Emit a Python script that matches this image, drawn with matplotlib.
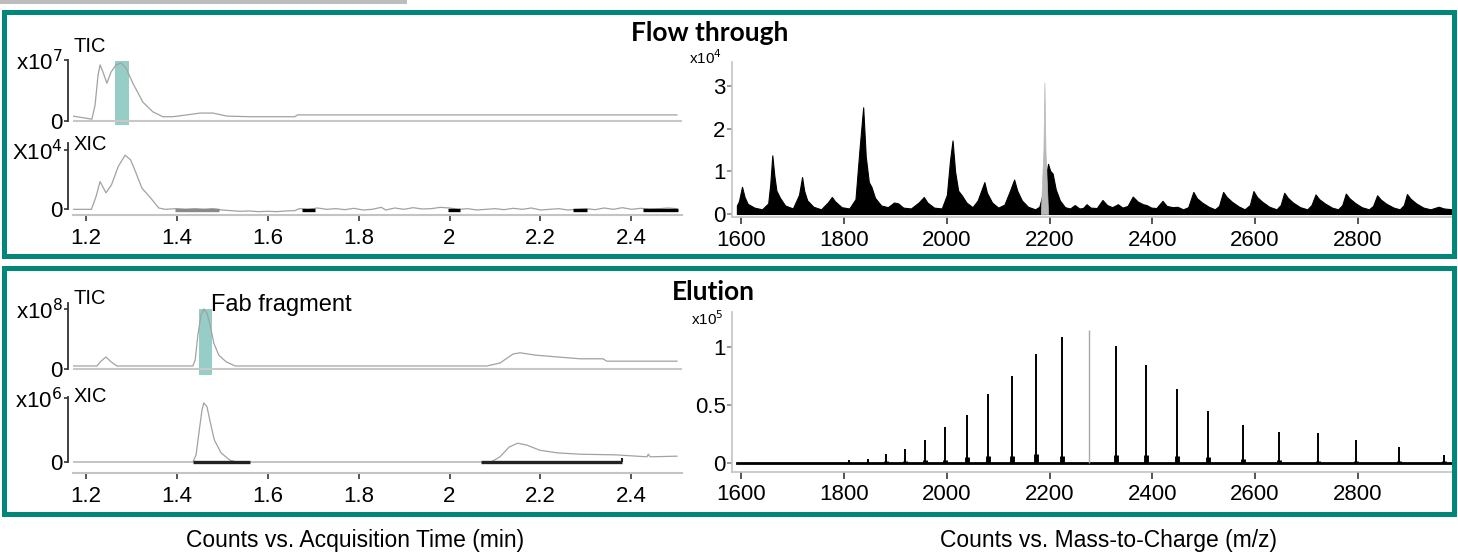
import matplotlib
matplotlib.use('Agg')
import matplotlib.pyplot as plt
from matplotlib.patches import Rectangle
from matplotlib.lines import Line2D

plt.rcParams['font.family'] = ['Liberation Sans', 'DejaVu Sans']

# ---------------- chromatogram data (time in min, relative counts) ----------------
ft_tic_t = [1.1725, 1.214, 1.221, 1.2275, 1.232, 1.2385, 1.247, 1.256, 1.267, 1.278, 1.289,
            1.304, 1.326, 1.348, 1.370, 1.392, 1.423, 1.452, 1.480, 1.511, 1.5615, 1.660,
            1.666, 2.500]
ft_tic_v = [0.08, 0.03, 0.26, 0.75, 0.92, 0.80, 0.62, 0.80, 0.92, 0.95, 0.87,
            0.62, 0.31, 0.15, 0.07, 0.07, 0.10, 0.13, 0.13, 0.08, 0.07, 0.07,
            0.10, 0.10]

ft_xic_t = [1.174, 1.213, 1.223, 1.232, 1.245, 1.257, 1.272, 1.287, 1.299, 1.311, 1.324,
            1.341, 1.361, 1.375, 1.40, 1.42, 1.44, 1.46, 1.48, 1.50, 1.52, 1.54, 1.56,
            1.58, 1.60, 1.62, 1.64, 1.66, 1.67, 1.69, 1.71, 1.73, 1.75, 1.77, 1.79, 1.81,
            1.83, 1.85, 1.86, 1.88, 1.90, 1.92, 1.94, 1.96, 1.98, 2.00, 2.02, 2.04, 2.06,
            2.08, 2.10, 2.12, 2.14, 2.16, 2.18, 2.20, 2.22, 2.24, 2.26, 2.28, 2.30, 2.32,
            2.34, 2.36, 2.38, 2.40, 2.42, 2.44, 2.46, 2.48, 2.50]
ft_xic_v = [0.0, 0.0, 0.19, 0.42, 0.25, 0.37, 0.65, 0.82, 0.75, 0.55, 0.32,
            0.19, 0.02, 0.0, 0.01, 0.0, 0.01, 0.0, 0.01, -0.01, -0.02, -0.03, -0.025,
            -0.035, -0.03, -0.035, -0.025, -0.02, 0.01, 0.0, 0.02, 0.0, 0.01, -0.005, 0.015, -0.01,
            0.0, 0.03, -0.01, 0.02, 0.0, 0.025, 0.005, 0.01, 0.03, 0.02, 0.0, 0.01, -0.01,
            0.0, 0.01, -0.005, 0.015, 0.0, 0.02, -0.01, 0.0, 0.01, -0.01, 0.0, 0.01, -0.005,
            0.02, 0.0, 0.025, 0.0, 0.015, 0.005, 0.01, 0.02, 0.01]
ft_xic_bars = [(1.397, 1.493), (1.675, 1.704), (1.997, 2.024), (2.271, 2.302), (2.425, 2.502)]
ft_highlight = (1.265, 1.296)

el_tic_t = [1.1725, 1.225, 1.234, 1.245, 1.256, 1.269, 1.436, 1.441, 1.447, 1.454, 1.460,
            1.467, 1.474, 1.482, 1.493, 1.509, 1.529, 2.082, 2.111, 2.140, 2.155, 2.190,
            2.238, 2.287, 2.337, 2.346, 2.500]
el_tic_v = [0.05, 0.05, 0.13, 0.20, 0.12, 0.05, 0.05, 0.15, 0.57, 0.90, 1.0,
            0.93, 0.73, 0.43, 0.23, 0.12, 0.05, 0.05, 0.10, 0.25, 0.27, 0.23,
            0.20, 0.17, 0.17, 0.13, 0.13]

el_xic_t = [1.1725, 1.436, 1.443, 1.451, 1.456, 1.460, 1.467, 1.473, 1.483, 1.498, 1.517,
            1.532, 2.091, 2.111, 2.131, 2.150, 2.170, 2.199, 2.238, 2.287, 2.366, 2.434,
            2.437, 2.441, 2.500]
el_xic_v = [0.0, 0.0, 0.11, 0.54, 0.80, 0.91, 0.85, 0.65, 0.34, 0.14, 0.03,
            0.0, 0.0, 0.08, 0.23, 0.29, 0.26, 0.18, 0.14, 0.12, 0.11, 0.08,
            0.12, 0.08, 0.09]
el_xic_bars = [(1.436, 1.562), (2.069, 2.379)]
el_highlight = (1.4495, 1.4787)

time_ticks = [1.2, 1.4, 1.6, 1.8, 2.0, 2.2, 2.4]
time_labels = ['1.2', '1.4', '1.6', '1.8', '2', '2.2', '2.4']

# ---------------- mass spectra (m/z, counts) ----------------
ft_ms_mz = [1591, 1595, 1601, 1606, 1612, 1625, 1640, 1652, 1656, 1660, 1664, 1668, 1675, 1685,
            1700, 1712, 1718, 1722, 1728, 1740, 1755, 1768, 1776, 1782, 1795, 1810, 1822,
            1830, 1837, 1842, 1848, 1853, 1860, 1872, 1885, 1897, 1905, 1915, 1930, 1945,
            1955, 1962, 1975, 1990, 2000, 2006, 2011, 2016, 2022, 2029, 2038, 2050, 2060,
            2073, 2078, 2088, 2100, 2112, 2122, 2131, 2137, 2146, 2158, 2172, 2180, 2190,
            2197, 2201, 2206, 2212, 2220, 2230, 2240, 2249, 2258, 2265, 2272, 2280, 2292,
            2303, 2312, 2322, 2333, 2342, 2352, 2362, 2372, 2382, 2389, 2398, 2408, 2420,
            2428, 2440, 2449, 2460, 2470, 2480, 2487, 2497, 2510, 2522, 2530, 2538, 2545,
            2555, 2568, 2580, 2590, 2597, 2604, 2614, 2628, 2642, 2650, 2657, 2664, 2674,
            2688, 2702, 2710, 2718, 2725, 2736, 2750, 2762, 2770, 2777, 2784, 2795, 2808,
            2822, 2830, 2838, 2845, 2856, 2870, 2882, 2890, 2896, 2903, 2914, 2928, 2942,
            2952, 2958, 2968, 2985, 2995]
ft_ms_int = [0.20, 0.30, 0.64, 0.40, 0.24, 0.15, 0.11, 0.25, 0.70, 1.38, 0.90, 0.55, 0.38, 0.20,
             0.13, 0.45, 0.87, 0.55, 0.32, 0.17, 0.11, 0.27, 0.40, 0.30, 0.16, 0.13, 0.35,
             1.55, 2.51, 1.35, 0.75, 0.64, 0.38, 0.20, 0.16, 0.27, 0.25, 0.15, 0.13, 0.27,
             0.40, 0.27, 0.15, 0.13, 0.45, 1.25, 1.73, 1.00, 0.55, 0.44, 0.27, 0.16, 0.32,
             0.75, 0.50, 0.27, 0.15, 0.22, 0.52, 0.81, 0.55, 0.32, 0.17, 0.11, 0.17, 0.62,
             1.18, 1.02, 0.95, 0.58, 0.32, 0.16, 0.13, 0.21, 0.13, 0.14, 0.23, 0.15, 0.14,
             0.33, 0.21, 0.16, 0.23, 0.15, 0.19, 0.41, 0.29, 0.23, 0.21, 0.15, 0.14, 0.31,
             0.19, 0.16, 0.17, 0.11, 0.16, 0.52, 0.37, 0.27, 0.17, 0.11, 0.19, 0.52, 0.40,
             0.29, 0.18, 0.11, 0.21, 0.54, 0.40, 0.29, 0.17, 0.11, 0.21, 0.50, 0.38, 0.27,
             0.16, 0.11, 0.21, 0.46, 0.35, 0.25, 0.15, 0.11, 0.21, 0.48, 0.37, 0.26, 0.16,
             0.11, 0.19, 0.44, 0.34, 0.24, 0.15, 0.11, 0.21, 0.47, 0.36, 0.25, 0.15, 0.11,
             0.15, 0.17, 0.13, 0.11, 0.10]
ft_spike_mz = [2183, 2188, 2190, 2192, 2197]
ft_spike_int = [0.05, 1.5, 3.09, 1.5, 0.05]

el_peak_mz = [1810, 1846, 1882, 1918, 1957, 1996, 2039, 2081, 2127, 2174, 2224, 2330,
              2387, 2448, 2509, 2577, 2647, 2722, 2797, 2881, 2969]
el_peak_int = [0.03, 0.04, 0.08, 0.12, 0.20, 0.31, 0.41, 0.59, 0.75, 0.94, 1.08, 1.01,
               0.84, 0.64, 0.45, 0.33, 0.27, 0.26, 0.20, 0.14, 0.07]
el_hump_int = [0.01, 0.01, 0.02, 0.02, 0.03, 0.03, 0.05, 0.06, 0.06, 0.08, 0.06, 0.07,
               0.07, 0.06, 0.05, 0.04, 0.03, 0.02, 0.02, 0.02, 0.02]
el_gray_mz = [2276]
el_gray_int = [1.14]
el_base_mz = [1591, 2995]
el_base_int = [0.006, 0.006]

mz_ticks = [1600, 1800, 2000, 2200, 2400, 2600, 2800]

# ---------------- layout helpers ----------------
W, H = 1458, 553
fig = plt.figure(figsize=(W / 100, H / 100), dpi=100)
TEAL = '#00877a'
HL = '#96cdc6'
TRACE = '#a2a2a2'
FS = 16


def px_axes(x0, y0, x1, y1):
    ax = fig.add_axes([x0 / W, 1 - y1 / H, (x1 - x0) / W, (y1 - y0) / H])
    ax.patch.set_visible(False)
    return ax


def ftext(x, y, s, **kw):
    fig.text(x / W, 1 - y / H, s, **kw)


def px2pt(p):
    return p * 72 / 100


def chrom_axes(y0, y1, ylim, top_tick, top_label, show_x):
    ax = px_axes(73, y0, 682, y1)
    ax.set_xlim(1.1725, 2.511)
    ax.set_ylim(*ylim)
    for s in ['top', 'right']:
        ax.spines[s].set_visible(False)
    ax.spines['left'].set_position(('outward', px2pt(5)))
    ax.spines['left'].set_bounds(0, top_tick)
    ax.spines['left'].set_color('#333333')
    ax.spines['left'].set_linewidth(1.3)
    ax.set_yticks([0, top_tick])
    ax.set_yticklabels(['0', top_label])
    ax.tick_params(axis='y', direction='out', length=3, width=1.2, color='#333333',
                   labelsize=FS, pad=1)
    if show_x:
        ax.spines['bottom'].set_color('#c4c4c4')
        ax.spines['bottom'].set_linewidth(1.5)
        ax.set_xticks(time_ticks)
        ax.set_xticklabels(time_labels)
        ax.tick_params(axis='x', direction='out', length=px2pt(6), width=1.4,
                       color='#555555', labelsize=FS, pad=5)
    else:
        ax.spines['bottom'].set_visible(False)
        ax.set_xticks([])
    return ax


def spec_axes(y0, y1, ylim, yticks, ylabels):
    ax = px_axes(732, y0, 1455, y1)
    ax.set_xlim(1581.5, 2989.6)
    ax.set_ylim(*ylim)
    for s in ['top', 'right']:
        ax.spines[s].set_visible(False)
    for s in ['left', 'bottom']:
        ax.spines[s].set_color('#c4c4c4')
        ax.spines[s].set_linewidth(1.2)
    ax.set_xticks(mz_ticks)
    ax.set_xticklabels([str(m) for m in mz_ticks])
    ax.set_yticks(yticks)
    ax.set_yticklabels(ylabels)
    ax.tick_params(axis='x', direction='out', length=px2pt(7), width=1.4,
                   color='#555555', labelsize=FS, pad=4)
    ax.tick_params(axis='y', direction='out', length=px2pt(5), width=1.2,
                   color='#888888', labelsize=FS, pad=1)
    return ax


# ---------------- frames ----------------
fig.add_artist(Line2D([0, 405 / W], [1 - 2 / H, 1 - 2 / H], color='#bdbdbd', lw=px2pt(4)))
for (y_top, y_bot) in [(12, 256), (268, 514)]:
    fig.add_artist(Rectangle((4 / W, 1 - y_bot / H), 1450 / W, (y_bot - y_top) / H,
                             transform=fig.transFigure, fill=False, ec=TEAL, lw=px2pt(5)))

# ---------------- Flow through ----------------
ax = chrom_axes(58, 128, (-0.115, 1.033), 1.0, r'x10$^7$', False)
ax.axhline(0, color='#c8c8c8', lw=1.5)
ax.add_patch(Rectangle((ft_highlight[0], -0.07), ft_highlight[1] - ft_highlight[0], 1.05,
                       color=HL, lw=0))
ax.plot(ft_tic_t, ft_tic_v, color=TRACE, lw=0.9)
ftext(74, 46, 'TIC', fontsize=14.5, va='center')

ax = chrom_axes(140, 215, (-0.086, 1.05), 0.9, r'X10$^4$', True)
ax.spines['left'].set_bounds(0, 1.0)
ax.plot(ft_xic_t, ft_xic_v, color=TRACE, lw=0.9)
for i, (a, b) in enumerate(ft_xic_bars):
    ax.hlines(-0.01, a, b, color='#8a8a8a' if i == 0 else 'black', lw=2.4)
ftext(74, 144, 'XIC', fontsize=14.5, va='center')

ax = spec_axes(62, 217, (-0.0706, 3.576), [0, 1, 2, 3], ['0', '1', '2', '3'])
ax.fill_between(ft_ms_mz, 0, ft_ms_int, color='black', lw=0.8)
ax.fill_between(ft_spike_mz, 0, ft_spike_int, color='#b8b8b8', lw=0.5)
ftext(705, 58, r'x10$^4$', fontsize=11, ha='center', va='center')

ftext(710, 33, 'Flow through', fontsize=19, fontweight='bold', ha='center', va='center',
      family=['Lato', 'Liberation Sans'])

# ---------------- Elution ----------------
ax = chrom_axes(300, 376, (-0.117, 1.15), 1.0, r'x10$^8$', False)
ax.spines['left'].set_bounds(0, 1.1)
ax.axhline(0, color='#c8c8c8', lw=1.5)
ax.add_patch(Rectangle((el_highlight[0], -0.1), el_highlight[1] - el_highlight[0], 1.1,
                       color=HL, lw=0))
ax.plot(el_tic_t, el_tic_v, color=TRACE, lw=0.9)
ftext(74, 298, 'TIC', fontsize=14.5, va='center')
ftext(211, 305, 'Fab fragment', fontsize=17, va='center')

ax = chrom_axes(390, 473, (-0.169, 1.108), 0.98, r'x10$^6$', True)
ax.spines['left'].set_bounds(0, 1.0)
ax.plot(el_xic_t, el_xic_v, color=TRACE, lw=0.9)
for (a, b) in el_xic_bars:
    ax.hlines(0, a, b, color='#222222', lw=2.4)
ax.vlines(el_xic_bars[-1][1], 0, 0.06, color='#222222', lw=1.5)
ftext(74, 397, 'XIC', fontsize=14.5, va='center')

ax = spec_axes(311.7, 471.7, (-0.072, 1.30), [0, 0.5, 1], ['0', '0.5', '1'])
ax.plot(el_base_mz, el_base_int, color='black', lw=2)
ax.vlines(el_peak_mz, 0, el_hump_int, color='black', lw=3.5)
ax.vlines(el_peak_mz, 0, el_peak_int, color='black', lw=1.4)
ax.vlines(el_gray_mz, 0, el_gray_int, color='#a8a8a8', lw=1.0)
ftext(707, 319, r'x10$^5$', fontsize=11, ha='center', va='center')

ftext(713, 292, 'Elution', fontsize=19, fontweight='bold', ha='center', va='center',
      family=['Lato', 'Liberation Sans'])

# ---------------- axis captions ----------------
ftext(355, 541, 'Counts vs. Acquisition Time (min)', fontsize=16.5, ha='center', va='center')
ftext(1108, 540, 'Counts vs. Mass-to-Charge (m/z)', fontsize=16.5, ha='center', va='center')

fig.savefig('out.png', dpi=100)
